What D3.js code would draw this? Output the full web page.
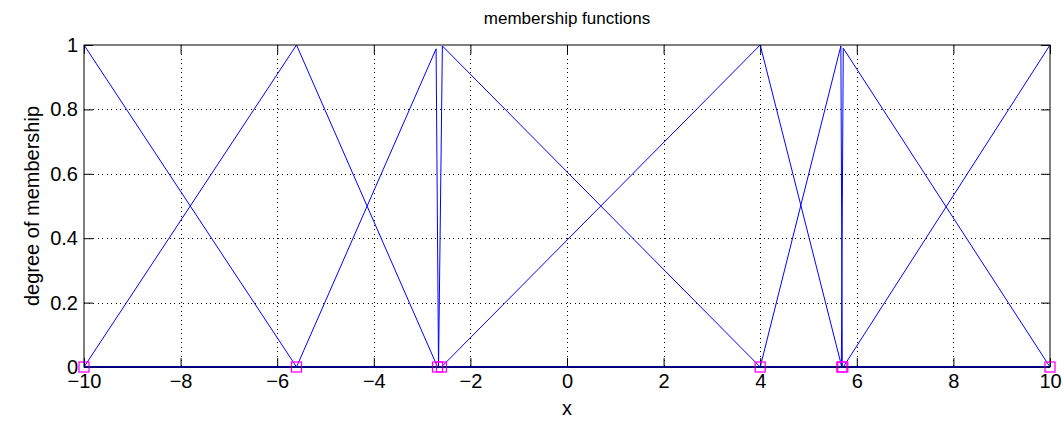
<!DOCTYPE html>
<html>
<head>
<meta charset="utf-8">
<script src="https://cdn.jsdelivr.net/npm/d3@7"></script>
<style>
  html, body { margin: 0; padding: 0; background: #fff; }
  svg { display: block; }
  text { font-family: "Liberation Sans", Arial, Helvetica, sans-serif; fill: #000; }
</style>
</head>
<body>
<svg id="chart" width="1063" height="422"></svg>
<script>
// Triangular membership functions, each as its list of vertices [x, degree]
const mf1 = [[-10, 1], [-5.6, 0], [10, 0]];
const mf2 = [[-10, 0], [-5.6, 1], [-2.68, 0], [10, 0]];
const mf3 = [[-10, 0], [-5.6, 0], [-2.71, 0.988], [-2.66, 0], [10, 0]];
const mf4 = [[-10, 0], [-2.66, 0], [-2.58, 0.997], [4, 0], [10, 0]];
const mf5 = [[-10, 0], [-2.6, 0], [4, 1], [5.69, 0], [10, 0]];
const mf6 = [[-10, 0], [4, 0], [5.67, 0.997], [5.7, 0], [10, 0]];
const mf7 = [[-10, 0], [5.68, 0], [5.72, 0.99], [10, 0]];
const mf8 = [[-10, 0], [5.72, 0], [10, 1]];
const memberships = [mf1, mf2, mf3, mf4, mf5, mf6, mf7, mf8];

// Centres marked on the x axis
const centres = [-10, -5.6, -2.68, -2.6, 4, 5.69, 5.71, 10];

const xTicks = [-10, -8, -6, -4, -2, 0, 2, 4, 6, 8, 10];
const yTicks = [0, 0.2, 0.4, 0.6, 0.8, 1];

const titleText = "membership functions";
const xLabel = "x";
const yLabel = "degree of membership";

const svg = d3.select("#chart");
const plotL = 84, plotR = 1050, plotT = 45, plotB = 367;

const x = d3.scaleLinear().domain([-10, 10]).range([plotL, plotR]);
const y = d3.scaleLinear().domain([0, 1]).range([plotB, plotT]);

const fmt = v => String(v).replace("-", "\u2212");

// dotted grid
const grid = svg.append("g").attr("stroke", "#000").attr("stroke-width", 1)
  .attr("stroke-dasharray", "1,3.5").attr("shape-rendering", "crispEdges");
xTicks.slice(1, -1).forEach(t => {
  grid.append("line").attr("x1", Math.round(x(t)) + 0.5).attr("x2", Math.round(x(t)) + 0.5)
    .attr("y1", plotT).attr("y2", plotB);
});
yTicks.slice(1, -1).forEach(t => {
  grid.append("line").attr("y1", Math.round(y(t)) + 0.5).attr("y2", Math.round(y(t)) + 0.5)
    .attr("x1", plotL).attr("x2", plotR);
});

// axes: ticks pointing inward on all four sides
const tickLen = 9;
const xAxisB = d3.axisBottom(x).tickValues(xTicks).tickSize(-tickLen).tickPadding(7).tickFormat(fmt);
const xAxisT = d3.axisTop(x).tickValues(xTicks).tickSize(-tickLen).tickFormat("");
const yAxisL = d3.axisLeft(y).tickValues(yTicks).tickSize(-tickLen).tickPadding(6).tickFormat(d => String(d));
const yAxisR = d3.axisRight(y).tickValues(yTicks).tickSize(-tickLen).tickFormat("");

function styleAxis(g) {
  g.select(".domain").remove();
  g.selectAll(".tick line").attr("stroke", "#000");
  g.selectAll("text").attr("font-size", 20).style("font-family", '"Liberation Sans", Arial, sans-serif');
}
svg.append("g").attr("transform", `translate(0,${plotB})`).call(xAxisB).call(styleAxis);
svg.append("g").attr("transform", `translate(0,${plotT})`).call(xAxisT).call(styleAxis);
svg.append("g").attr("transform", `translate(${plotL},0)`).call(yAxisL).call(styleAxis);
svg.append("g").attr("transform", `translate(${plotR},0)`).call(yAxisR).call(styleAxis);

// membership curves
const line = d3.line().x(d => x(d[0])).y(d => y(d[1]));
svg.append("g").selectAll("path").data(memberships).join("path")
  .attr("d", line).attr("fill", "none").attr("stroke", "#0000ff").attr("stroke-width", 1);

// centre markers
svg.append("g").selectAll("rect").data(centres).join("rect")
  .attr("x", d => x(d) - 5).attr("y", y(0) - 5).attr("width", 10).attr("height", 10)
  .attr("fill", "none").attr("stroke", "#ff00ff").attr("stroke-width", 1.3);

// box
svg.append("rect").attr("x", plotL).attr("y", plotT).attr("width", plotR - plotL).attr("height", plotB - plotT)
  .attr("fill", "none").attr("stroke", "#000").attr("stroke-width", 1);

// labels
svg.append("text").attr("x", (plotL + plotR) / 2).attr("y", 24).attr("text-anchor", "middle")
  .attr("font-size", 17).text(titleText);
svg.append("text").attr("x", (plotL + plotR) / 2).attr("y", 415).attr("text-anchor", "middle")
  .attr("font-size", 20).text(xLabel);
svg.append("text").attr("transform", `translate(39,${(plotT + plotB) / 2}) rotate(-90)`)
  .attr("text-anchor", "middle").attr("font-size", 20).text(yLabel);
</script>
</body>
</html>
